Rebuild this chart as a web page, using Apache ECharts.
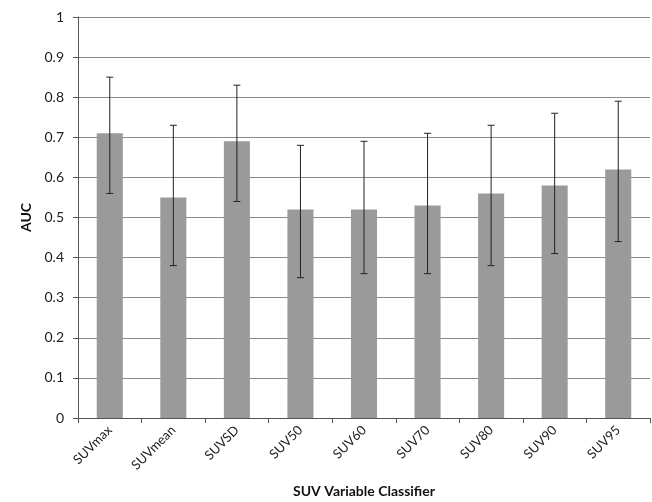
<!DOCTYPE html>
<html><head><meta charset="utf-8">
<script src="https://cdn.jsdelivr.net/npm/echarts@6/dist/echarts.min.js"></script>
<style>html,body{margin:0;padding:0;background:#fff}#c{width:652px;height:502px}</style>
</head><body><div id="c"></div>
<script>
const categories = ['SUVmax','SUVmean','SUVSD','SUV50','SUV60','SUV70','SUV80','SUV90','SUV95'];
const auc = [0.71, 0.55, 0.69, 0.52, 0.52, 0.53, 0.56, 0.58, 0.62];
const errLow = [0.56, 0.38, 0.54, 0.35, 0.36, 0.36, 0.38, 0.41, 0.44];
const errHigh = [0.85, 0.73, 0.83, 0.68, 0.69, 0.71, 0.73, 0.76, 0.79];

const errData = categories.map((c, i) => [i, errLow[i], errHigh[i]]);
const font = 'Lato, "Open Sans", "Liberation Sans", sans-serif';
const chart = echarts.init(document.getElementById('c'));
chart.setOption({
  animation: false,
  grid: {left: 78, right: 2, top: 17, bottom: 84, containLabel: false, outerBoundsMode: 'none'},
  xAxis: {
    type: 'category', data: categories,
    name: 'SUV Variable Classifier', nameLocation: 'middle', nameGap: 66,
    nameTextStyle: {fontFamily: font, fontWeight: 'bold', fontSize: 14, color: '#111'},
    axisLine: {lineStyle: {color: '#555', width: 1}},
    axisTick: {show: true, length: 5, lineStyle: {color: '#555'}},
    axisLabel: {rotate: 45, fontFamily: font, fontSize: 13, color: '#222', margin: 10}
  },
  yAxis: {
    type: 'value', min: 0, max: 1, interval: 0.1,
    name: 'AUC', nameLocation: 'middle', nameGap: 43, nameRotate: 90,
    nameTextStyle: {fontFamily: font, fontWeight: 'bold', fontSize: 14, color: '#111'},
    axisLine: {show: true, lineStyle: {color: '#555', width: 1}},
    axisTick: {show: true, length: 5, lineStyle: {color: '#555'}},
    axisLabel: {fontFamily: font, fontSize: 14, color: '#222', margin: 14,
      formatter: v => String(Math.round(v * 10) / 10)},
    splitLine: {lineStyle: {color: '#8a8a8a', width: 1}}
  },
  series: [
    {type: 'bar', data: auc, barWidth: '41%', itemStyle: {color: '#9a9a9a'}},
    {type: 'custom', data: errData, z: 10,
      renderItem: (params, api) => {
        const x = api.value(0);
        const lo = api.coord([x, api.value(1)]);
        const hi = api.coord([x, api.value(2)]);
        const w = 3.5;
        const st = {stroke: '#222', lineWidth: 1};
        return {type: 'group', children: [
          {type: 'line', shape: {x1: lo[0], y1: lo[1], x2: hi[0], y2: hi[1]}, style: st},
          {type: 'line', shape: {x1: lo[0]-w, y1: lo[1], x2: lo[0]+w, y2: lo[1]}, style: st},
          {type: 'line', shape: {x1: hi[0]-w, y1: hi[1], x2: hi[0]+w, y2: hi[1]}, style: st}
        ]};
      }
    }
  ]
});
</script></body></html>
